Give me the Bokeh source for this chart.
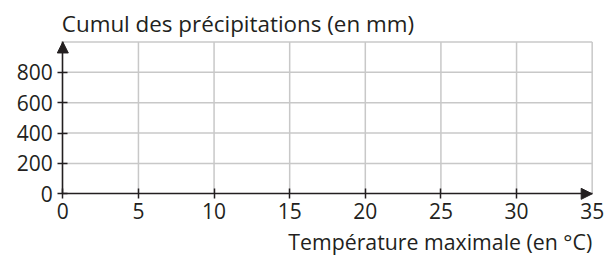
from bokeh.plotting import figure
from bokeh.models import Range1d, FixedTicker, Arrow, NormalHead, Label, LinearAxis
from bokeh.embed import file_html
from bokeh.resources import INLINE

# ---- data ----
x_ticks = [0, 5, 10, 15, 20, 25, 30, 35]
x_tick_marks = [0, 5, 10, 15, 20, 25, 30]
y_ticks = [0, 200, 400, 600, 800]
x_grid = [5, 10, 15, 20, 25, 30, 35]
y_grid = [200, 400, 600, 800, 1000]
x_max = 35
y_max = 1000
x_title = "Température maximale (en °C)"
y_title = "Cumul des précipitations (en mm)"

INK = "#231f20"
GRID = "#c8c8c8"
FONT = "Open Sans"

# frame covers the whole canvas; axes are pinned at data 0
p = figure(width=613, height=255, output_backend="svg", toolbar_location=None,
           x_range=Range1d(-4.12, 36.41), y_range=Range1d(-406, 1273),
           min_border=0, x_axis_type=None, y_axis_type=None)
p.outline_line_color = None
p.background_fill_color = "white"
p.border_fill_color = "white"
p.xgrid.visible = False
p.ygrid.visible = False

# grid lines limited to the plotting area
p.segment(x0=x_grid, x1=x_grid, y0=[0] * len(x_grid), y1=[y_max] * len(x_grid),
          line_color=GRID, line_width=1.5)
p.segment(x0=[0] * len(y_grid), x1=[x_max] * len(y_grid), y0=y_grid, y1=y_grid,
          line_color=GRID, line_width=1.5)

# x axis
xaxis = LinearAxis(ticker=FixedTicker(ticks=x_ticks, minor_ticks=x_tick_marks),
                   bounds=(0, x_max), fixed_location=0)
xaxis.axis_line_color = INK
xaxis.axis_line_width = 1.6
xaxis.major_tick_line_color = None
xaxis.major_tick_out = 5
xaxis.major_tick_in = 5
xaxis.minor_tick_line_color = INK
xaxis.minor_tick_line_width = 1.5
xaxis.minor_tick_in = 5
xaxis.minor_tick_out = 5
xaxis.major_label_standoff = 4
xaxis.major_label_text_font = FONT
xaxis.major_label_text_font_size = "21px"
xaxis.major_label_text_color = INK
p.add_layout(xaxis, "below")

# y axis
yaxis = LinearAxis(ticker=FixedTicker(ticks=y_ticks, minor_ticks=[]),
                   bounds=(0, y_max), fixed_location=0)
yaxis.axis_line_color = INK
yaxis.axis_line_width = 1.6
yaxis.major_tick_line_color = INK
yaxis.major_tick_line_width = 1.5
yaxis.major_tick_out = 5
yaxis.major_tick_in = 5
yaxis.minor_tick_line_color = None
yaxis.major_label_standoff = 5
yaxis.major_label_text_font = FONT
yaxis.major_label_text_font_size = "21px"
yaxis.major_label_text_color = INK
p.add_layout(yaxis, "left")

# arrows
p.add_layout(Arrow(end=NormalHead(size=11, fill_color=INK, line_color=INK, line_width=1),
                   x_start=x_max * 0.98, y_start=0, x_end=x_max, y_end=0,
                   line_color=INK, line_width=1.6))
p.add_layout(Arrow(end=NormalHead(size=11, fill_color=INK, line_color=INK, line_width=1),
                   x_start=0, y_start=y_max * 0.98, x_end=0, y_end=y_max,
                   line_color=INK, line_width=1.6))

# titles
p.add_layout(Label(x=0, y=y_max, x_offset=-1, y_offset=18.5, text=y_title,
                   text_font=FONT, text_font_size="22.4px", text_color=INK,
                   text_baseline="alphabetic", text_align="left"))
p.add_layout(Label(x=x_max, y=0, x_offset=0, y_offset=-47.5, text=x_title,
                   text_font=FONT, text_font_size="21.3px", text_color=INK,
                   text_baseline="alphabetic", text_align="right"))

open("out.html", "w").write(file_html(p, INLINE))
